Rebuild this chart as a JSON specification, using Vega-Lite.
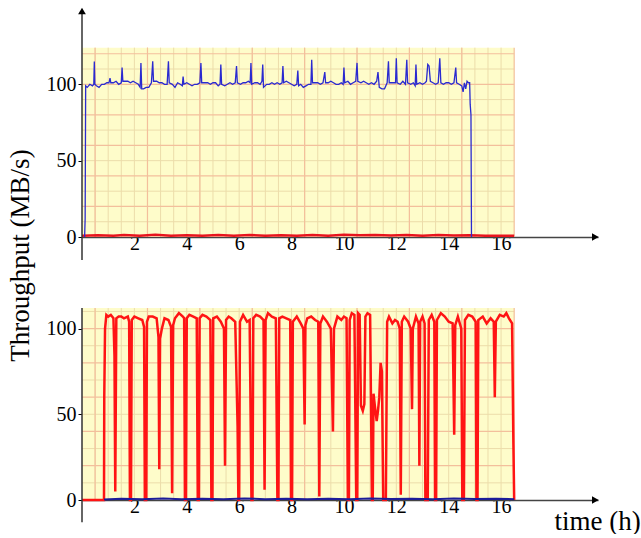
{
  "$schema": "https://vega.github.io/schema/vega-lite/v6.json",
  "padding": {"left": 6, "top": 7, "right": 0, "bottom": 0},
  "background": "white",
  "bounds": "flush",
  "spacing": 71,
  "resolve": {"scale": {"x": "independent", "y": "independent"}},
  "config": {
    "font": "Liberation Serif, Times New Roman, serif",
    "view": {"stroke": null},
    "axis": {
      "labelFont": "Liberation Serif, Times New Roman, serif", "labelFontSize": 20, "labelColor": "#000",
      "titleFont": "Liberation Serif, Times New Roman, serif", "titleFontSize": 27, "titleFontWeight": "normal", "titleColor": "#000",
      "grid": false, "tickColor": "#000", "domainColor": "#444", "domainWidth": 1.5, "labelOverlap": false, "labelFlush": false
    }
  },
  "datasets": {
    "vMinorTop": [{"t":0.5,"v":0,"v2":124},{"t":1,"v":0,"v2":124},{"t":1.5,"v":0,"v2":124},{"t":2,"v":0,"v2":124},{"t":2.5,"v":0,"v2":124},{"t":3,"v":0,"v2":124},{"t":3.5,"v":0,"v2":124},{"t":4,"v":0,"v2":124},{"t":4.5,"v":0,"v2":124},{"t":5,"v":0,"v2":124},{"t":5.5,"v":0,"v2":124},{"t":6,"v":0,"v2":124},{"t":6.5,"v":0,"v2":124},{"t":7,"v":0,"v2":124},{"t":7.5,"v":0,"v2":124},{"t":8,"v":0,"v2":124},{"t":8.5,"v":0,"v2":124},{"t":9,"v":0,"v2":124},{"t":9.5,"v":0,"v2":124},{"t":10,"v":0,"v2":124},{"t":10.5,"v":0,"v2":124},{"t":11,"v":0,"v2":124},{"t":11.5,"v":0,"v2":124},{"t":12,"v":0,"v2":124},{"t":12.5,"v":0,"v2":124},{"t":13,"v":0,"v2":124},{"t":13.5,"v":0,"v2":124},{"t":14,"v":0,"v2":124},{"t":14.5,"v":0,"v2":124},{"t":15,"v":0,"v2":124},{"t":15.5,"v":0,"v2":124},{"t":16,"v":0,"v2":124}],
    "vMajorTop": [{"t":0.5,"v":0,"v2":124},{"t":2.5,"v":0,"v2":124},{"t":4.5,"v":0,"v2":124},{"t":6.5,"v":0,"v2":124},{"t":8.5,"v":0,"v2":124},{"t":10.5,"v":0,"v2":124},{"t":12.5,"v":0,"v2":124},{"t":14.5,"v":0,"v2":124},{"t":16.5,"v":0,"v2":124}],
    "vMinorBot": [{"t":0.5,"v":0,"v2":112},{"t":1,"v":0,"v2":112},{"t":1.5,"v":0,"v2":112},{"t":2,"v":0,"v2":112},{"t":2.5,"v":0,"v2":112},{"t":3,"v":0,"v2":112},{"t":3.5,"v":0,"v2":112},{"t":4,"v":0,"v2":112},{"t":4.5,"v":0,"v2":112},{"t":5,"v":0,"v2":112},{"t":5.5,"v":0,"v2":112},{"t":6,"v":0,"v2":112},{"t":6.5,"v":0,"v2":112},{"t":7,"v":0,"v2":112},{"t":7.5,"v":0,"v2":112},{"t":8,"v":0,"v2":112},{"t":8.5,"v":0,"v2":112},{"t":9,"v":0,"v2":112},{"t":9.5,"v":0,"v2":112},{"t":10,"v":0,"v2":112},{"t":10.5,"v":0,"v2":112},{"t":11,"v":0,"v2":112},{"t":11.5,"v":0,"v2":112},{"t":12,"v":0,"v2":112},{"t":12.5,"v":0,"v2":112},{"t":13,"v":0,"v2":112},{"t":13.5,"v":0,"v2":112},{"t":14,"v":0,"v2":112},{"t":14.5,"v":0,"v2":112},{"t":15,"v":0,"v2":112},{"t":15.5,"v":0,"v2":112},{"t":16,"v":0,"v2":112}],
    "vMajorBot": [{"t":0.5,"v":0,"v2":112},{"t":2.5,"v":0,"v2":112},{"t":4.5,"v":0,"v2":112},{"t":6.5,"v":0,"v2":112},{"t":8.5,"v":0,"v2":112},{"t":10.5,"v":0,"v2":112},{"t":12.5,"v":0,"v2":112},{"t":14.5,"v":0,"v2":112},{"t":16.5,"v":0,"v2":112}],
    "hMinorTop": [{"v":10,"t":0,"t2":16.5},{"v":30,"t":0,"t2":16.5},{"v":50,"t":0,"t2":16.5},{"v":70,"t":0,"t2":16.5},{"v":90,"t":0,"t2":16.5},{"v":110,"t":0,"t2":16.5}],
    "hMajorTop": [{"v":20,"t":0,"t2":16.5},{"v":40,"t":0,"t2":16.5},{"v":60,"t":0,"t2":16.5},{"v":80,"t":0,"t2":16.5},{"v":100,"t":0,"t2":16.5},{"v":120,"t":0,"t2":16.5}],
    "hMinorBot": [{"v":10,"t":0,"t2":16.5},{"v":30,"t":0,"t2":16.5},{"v":50,"t":0,"t2":16.5},{"v":70,"t":0,"t2":16.5},{"v":90,"t":0,"t2":16.5},{"v":110,"t":0,"t2":16.5}],
    "hMajorBot": [{"v":20,"t":0,"t2":16.5},{"v":40,"t":0,"t2":16.5},{"v":60,"t":0,"t2":16.5},{"v":80,"t":0,"t2":16.5},{"v":100,"t":0,"t2":16.5}],
    "topRed": [{"t":0,"v":0.8},{"t":0.6,"v":1.2},{"t":1.2,"v":0.8},{"t":1.6,"v":1.3},{"t":2.2,"v":0.9},{"t":2.8,"v":1.4},{"t":3.4,"v":0.9},{"t":4.0,"v":1.2},{"t":4.6,"v":0.8},{"t":5.2,"v":1.3},{"t":5.8,"v":0.9},{"t":6.4,"v":1.3},{"t":7.0,"v":0.9},{"t":7.6,"v":1.2},{"t":8.2,"v":0.8},{"t":8.8,"v":1.3},{"t":9.4,"v":0.9},{"t":10.0,"v":1.4},{"t":10.6,"v":1.1},{"t":11.2,"v":1.3},{"t":11.8,"v":1.0},{"t":12.4,"v":1.3},{"t":13.0,"v":0.9},{"t":13.6,"v":1.3},{"t":14.2,"v":1.0},{"t":14.8,"v":1.2},{"t":15.4,"v":0.8},{"t":16.0,"v":0.9},{"t":16.5,"v":0.8}],
    "topBlue": [{"t":0.10,"v":0},{"t":0.12,"v":12},{"t":0.14,"v":99},{"t":0.2,"v":98},{"t":0.3,"v":100},{"t":0.4,"v":99},{"t":0.45,"v":100},{"t":0.47,"v":115},{"t":0.49,"v":100},{"t":0.55,"v":99},{"t":0.65,"v":98},{"t":0.75,"v":100},{"t":0.85,"v":100},{"t":0.95,"v":101},{"t":1.03,"v":101},{"t":1.07,"v":104},{"t":1.1,"v":101},{"t":1.2,"v":101},{"t":1.3,"v":102},{"t":1.4,"v":100},{"t":1.5,"v":101},{"t":1.53,"v":111},{"t":1.56,"v":102},{"t":1.65,"v":102},{"t":1.75,"v":102},{"t":1.85,"v":101},{"t":1.95,"v":102},{"t":2.05,"v":101},{"t":2.15,"v":100},{"t":2.22,"v":98},{"t":2.25,"v":114},{"t":2.28,"v":97},{"t":2.35,"v":97},{"t":2.45,"v":98},{"t":2.55,"v":98},{"t":2.65,"v":101},{"t":2.7,"v":115},{"t":2.73,"v":102},{"t":2.85,"v":102},{"t":2.95,"v":101},{"t":3.05,"v":101},{"t":3.15,"v":100},{"t":3.25,"v":100},{"t":3.3,"v":115},{"t":3.33,"v":101},{"t":3.45,"v":100},{"t":3.55,"v":98},{"t":3.65,"v":101},{"t":3.75,"v":100},{"t":3.83,"v":99},{"t":3.86,"v":105},{"t":3.89,"v":100},{"t":4.0,"v":101},{"t":4.1,"v":100},{"t":4.2,"v":99},{"t":4.3,"v":100},{"t":4.4,"v":100},{"t":4.5,"v":101},{"t":4.54,"v":114},{"t":4.57,"v":101},{"t":4.7,"v":101},{"t":4.8,"v":101},{"t":4.9,"v":100},{"t":5.0,"v":101},{"t":5.1,"v":101},{"t":5.2,"v":99},{"t":5.27,"v":100},{"t":5.3,"v":113},{"t":5.33,"v":100},{"t":5.45,"v":99},{"t":5.55,"v":100},{"t":5.65,"v":101},{"t":5.75,"v":100},{"t":5.85,"v":101},{"t":5.9,"v":112},{"t":5.93,"v":101},{"t":6.05,"v":100},{"t":6.15,"v":101},{"t":6.25,"v":101},{"t":6.35,"v":102},{"t":6.42,"v":101},{"t":6.45,"v":114},{"t":6.48,"v":100},{"t":6.6,"v":101},{"t":6.7,"v":101},{"t":6.8,"v":100},{"t":6.87,"v":102},{"t":6.9,"v":113},{"t":6.93,"v":98},{"t":7.05,"v":100},{"t":7.15,"v":100},{"t":7.25,"v":101},{"t":7.35,"v":100},{"t":7.45,"v":101},{"t":7.55,"v":100},{"t":7.64,"v":101},{"t":7.67,"v":112},{"t":7.7,"v":101},{"t":7.8,"v":102},{"t":7.9,"v":101},{"t":8.0,"v":100},{"t":8.1,"v":99},{"t":8.2,"v":100},{"t":8.24,"v":109},{"t":8.27,"v":99},{"t":8.35,"v":100},{"t":8.45,"v":98},{"t":8.55,"v":99},{"t":8.65,"v":100},{"t":8.74,"v":100},{"t":8.77,"v":116},{"t":8.8,"v":101},{"t":8.9,"v":101},{"t":9.0,"v":101},{"t":9.1,"v":100},{"t":9.2,"v":101},{"t":9.27,"v":108},{"t":9.3,"v":101},{"t":9.4,"v":101},{"t":9.5,"v":102},{"t":9.6,"v":101},{"t":9.7,"v":100},{"t":9.8,"v":100},{"t":9.9,"v":101},{"t":9.97,"v":100},{"t":10.0,"v":111},{"t":10.03,"v":101},{"t":10.15,"v":102},{"t":10.25,"v":100},{"t":10.35,"v":101},{"t":10.45,"v":102},{"t":10.5,"v":114},{"t":10.53,"v":102},{"t":10.65,"v":101},{"t":10.75,"v":102},{"t":10.85,"v":101},{"t":10.95,"v":100},{"t":11.05,"v":101},{"t":11.15,"v":100},{"t":11.25,"v":102},{"t":11.3,"v":108},{"t":11.35,"v":98},{"t":11.45,"v":97},{"t":11.55,"v":97},{"t":11.65,"v":101},{"t":11.7,"v":115},{"t":11.73,"v":101},{"t":11.85,"v":101},{"t":11.97,"v":101},{"t":12.0,"v":117},{"t":12.03,"v":101},{"t":12.15,"v":100},{"t":12.25,"v":102},{"t":12.35,"v":100},{"t":12.4,"v":116},{"t":12.43,"v":101},{"t":12.55,"v":100},{"t":12.65,"v":101},{"t":12.72,"v":99},{"t":12.75,"v":113},{"t":12.78,"v":100},{"t":12.9,"v":101},{"t":13.0,"v":100},{"t":13.1,"v":101},{"t":13.15,"v":102},{"t":13.2,"v":113},{"t":13.25,"v":112},{"t":13.3,"v":102},{"t":13.4,"v":101},{"t":13.5,"v":100},{"t":13.6,"v":101},{"t":13.66,"v":117},{"t":13.7,"v":101},{"t":13.8,"v":100},{"t":13.9,"v":101},{"t":14.0,"v":101},{"t":14.1,"v":100},{"t":14.2,"v":101},{"t":14.27,"v":111},{"t":14.3,"v":101},{"t":14.4,"v":100},{"t":14.5,"v":99},{"t":14.55,"v":95},{"t":14.6,"v":101},{"t":14.65,"v":97},{"t":14.7,"v":102},{"t":14.75,"v":101},{"t":14.8,"v":101},{"t":14.82,"v":87},{"t":14.85,"v":80},{"t":14.87,"v":0}],
    "botRed": [{"t":0,"v":0},{"t":0.84,"v":0},{"t":0.85,"v":60},{"t":0.88,"v":100},{"t":0.93,"v":108},{"t":1.0,"v":107},{"t":1.1,"v":108},{"t":1.2,"v":106},{"t":1.24,"v":84},{"t":1.27,"v":5},{"t":1.31,"v":106},{"t":1.4,"v":107},{"t":1.5,"v":107},{"t":1.6,"v":106},{"t":1.75,"v":107},{"t":1.8,"v":104},{"t":1.83,"v":0},{"t":1.87,"v":0},{"t":1.9,"v":105},{"t":2.0,"v":107},{"t":2.15,"v":106},{"t":2.3,"v":105},{"t":2.37,"v":101},{"t":2.4,"v":0},{"t":2.45,"v":0},{"t":2.48,"v":104},{"t":2.55,"v":107},{"t":2.7,"v":107},{"t":2.85,"v":106},{"t":2.92,"v":95},{"t":2.95,"v":18},{"t":2.98,"v":94},{"t":3.05,"v":100},{"t":3.15,"v":106},{"t":3.3,"v":105},{"t":3.4,"v":101},{"t":3.44,"v":4},{"t":3.48,"v":102},{"t":3.55,"v":106},{"t":3.7,"v":109},{"t":3.85,"v":107},{"t":3.9,"v":106},{"t":3.93,"v":0},{"t":3.97,"v":0},{"t":4.0,"v":106},{"t":4.1,"v":108},{"t":4.25,"v":107},{"t":4.38,"v":106},{"t":4.42,"v":0},{"t":4.46,"v":0},{"t":4.49,"v":106},{"t":4.6,"v":108},{"t":4.75,"v":107},{"t":4.9,"v":105},{"t":4.94,"v":0},{"t":4.98,"v":0},{"t":5.01,"v":106},{"t":5.15,"v":107},{"t":5.3,"v":104},{"t":5.42,"v":100},{"t":5.46,"v":20},{"t":5.5,"v":105},{"t":5.6,"v":107},{"t":5.7,"v":106},{"t":5.85,"v":104},{"t":5.94,"v":43},{"t":5.97,"v":0},{"t":6.0,"v":0},{"t":6.03,"v":104},{"t":6.15,"v":108},{"t":6.3,"v":104},{"t":6.4,"v":105},{"t":6.47,"v":0},{"t":6.51,"v":0},{"t":6.54,"v":106},{"t":6.65,"v":108},{"t":6.8,"v":107},{"t":6.93,"v":105},{"t":6.97,"v":6},{"t":7.01,"v":105},{"t":7.1,"v":109},{"t":7.25,"v":107},{"t":7.4,"v":106},{"t":7.46,"v":0},{"t":7.5,"v":0},{"t":7.53,"v":106},{"t":7.65,"v":107},{"t":7.8,"v":106},{"t":7.95,"v":105},{"t":7.98,"v":0},{"t":8.02,"v":0},{"t":8.05,"v":104},{"t":8.2,"v":107},{"t":8.35,"v":103},{"t":8.45,"v":100},{"t":8.5,"v":44},{"t":8.53,"v":102},{"t":8.6,"v":106},{"t":8.75,"v":107},{"t":8.9,"v":105},{"t":9.02,"v":104},{"t":9.06,"v":2},{"t":9.1,"v":103},{"t":9.2,"v":107},{"t":9.35,"v":104},{"t":9.5,"v":100},{"t":9.58,"v":40},{"t":9.62,"v":100},{"t":9.75,"v":107},{"t":9.9,"v":105},{"t":10.0,"v":107},{"t":10.1,"v":106},{"t":10.15,"v":0},{"t":10.19,"v":0},{"t":10.22,"v":105},{"t":10.3,"v":109},{"t":10.4,"v":108},{"t":10.47,"v":0},{"t":10.51,"v":0},{"t":10.54,"v":109},{"t":10.6,"v":108},{"t":10.65,"v":55},{"t":10.72,"v":52},{"t":10.78,"v":56},{"t":10.82,"v":107},{"t":10.9,"v":109},{"t":11.0,"v":108},{"t":11.07,"v":0},{"t":11.1,"v":0},{"t":11.13,"v":62},{"t":11.18,"v":55},{"t":11.25,"v":46},{"t":11.3,"v":52},{"t":11.35,"v":60},{"t":11.4,"v":80},{"t":11.45,"v":75},{"t":11.5,"v":0},{"t":11.55,"v":0},{"t":11.6,"v":0},{"t":11.65,"v":104},{"t":11.72,"v":107},{"t":11.85,"v":103},{"t":11.95,"v":105},{"t":12.05,"v":104},{"t":12.13,"v":100},{"t":12.17,"v":3},{"t":12.21,"v":104},{"t":12.3,"v":107},{"t":12.45,"v":104},{"t":12.55,"v":100},{"t":12.6,"v":53},{"t":12.63,"v":100},{"t":12.75,"v":107},{"t":12.85,"v":103},{"t":12.88,"v":20},{"t":12.91,"v":104},{"t":13.0,"v":107},{"t":13.08,"v":103},{"t":13.11,"v":0},{"t":13.15,"v":0},{"t":13.2,"v":0},{"t":13.24,"v":105},{"t":13.35,"v":108},{"t":13.45,"v":104},{"t":13.48,"v":0},{"t":13.52,"v":0},{"t":13.55,"v":105},{"t":13.7,"v":109},{"t":13.85,"v":107},{"t":14.0,"v":104},{"t":14.15,"v":103},{"t":14.21,"v":38},{"t":14.25,"v":102},{"t":14.35,"v":107},{"t":14.48,"v":100},{"t":14.52,"v":0},{"t":14.58,"v":0},{"t":14.62,"v":105},{"t":14.75,"v":108},{"t":14.9,"v":107},{"t":15.03,"v":104},{"t":15.06,"v":0},{"t":15.1,"v":0},{"t":15.13,"v":105},{"t":15.3,"v":107},{"t":15.45,"v":103},{"t":15.6,"v":106},{"t":15.72,"v":104},{"t":15.76,"v":60},{"t":15.8,"v":104},{"t":15.95,"v":108},{"t":16.1,"v":107},{"t":16.2,"v":109},{"t":16.3,"v":106},{"t":16.42,"v":103},{"t":16.47,"v":33},{"t":16.5,"v":0}],
    "botBlue": [{"t":0.84,"v":0.3},{"t":1.5,"v":0.7},{"t":2.3,"v":0.4},{"t":3.1,"v":0.9},{"t":3.8,"v":0.5},{"t":4.6,"v":0.8},{"t":5.4,"v":0.4},{"t":6.2,"v":0.9},{"t":7.0,"v":0.5},{"t":7.8,"v":0.8},{"t":8.6,"v":0.4},{"t":9.4,"v":0.7},{"t":10.2,"v":0.5},{"t":11.0,"v":0.9},{"t":11.8,"v":0.6},{"t":12.6,"v":0.8},{"t":13.4,"v":0.5},{"t":14.2,"v":0.9},{"t":15.0,"v":0.6},{"t":15.8,"v":0.8},{"t":16.5,"v":0.5}]
  },
  "vconcat": [
    {
      "width": 516,
      "height": 226,
      "encoding": {
        "x": {"field": "t", "type": "quantitative", "scale": {"domain": [0, 19.7], "nice": false, "zero": false},
              "axis": {"values": [2,4,6,8,10,12,14,16], "title": null, "tickSize": -5, "labelPadding": 1, "domain": true}},
        "y": {"field": "v", "type": "quantitative", "scale": {"domain": [0, 148], "nice": false, "zero": false},
              "axis": {"values": [0,50,100], "title": "Throughput (MB/s)", "domain": false, "tickSize": 4, "labelPadding": 2,
                       "titleX": -54, "titleY": 244, "titleAngle": 270, "titleBaseline": "alphabetic", "titleAlign": "center"}}
      },
      "layer": [
        {"data": {"values": [{"t": 0, "t2": 16.5, "v": 0, "v2": 124}]}, "mark": {"type": "rect", "color": "#fefcca"},
         "encoding": {"x2": {"field": "t2"}, "y2": {"field": "v2"}}},
        {"data": {"name": "vMinorTop"}, "mark": {"type": "rule", "color": "#ecdcaa", "strokeWidth": 1},
         "encoding": {"y2": {"field": "v2"}}},
        {"data": {"name": "hMinorTop"}, "mark": {"type": "rule", "color": "#ecdcaa", "strokeWidth": 1},
         "encoding": {"x2": {"field": "t2"}}},
        {"data": {"name": "vMajorTop"}, "mark": {"type": "rule", "color": "#f3bf9c", "strokeWidth": 1.2},
         "encoding": {"y2": {"field": "v2"}}},
        {"data": {"name": "hMajorTop"}, "mark": {"type": "rule", "color": "#f3bf9c", "strokeWidth": 1.2},
         "encoding": {"x2": {"field": "t2"}}},
        {"data": {"name": "topRed"}, "mark": {"type": "line", "color": "#e8141e", "strokeWidth": 2.5}},
        {"data": {"name": "topBlue"}, "mark": {"type": "line", "color": "#2a2ad0", "strokeWidth": 1.3}},
        {"data": {"values": [{"t": 0, "v": -15, "v2": 148}]}, "mark": {"type": "rule", "color": "#333", "strokeWidth": 1.5},
         "encoding": {"y2": {"field": "v2"}}},
        {"data": {"values": [{"t": 19.6, "v": 0}]}, "mark": {"type": "point", "shape": "triangle-right", "filled": true, "color": "#000", "size": 60, "opacity": 1}},
        {"data": {"values": [{"t": 0, "v": 148}]}, "mark": {"type": "point", "shape": "triangle-up", "filled": true, "color": "#000", "size": 60, "opacity": 1}}
      ]
    },
    {
      "width": 516,
      "height": 192,
      "encoding": {
        "x": {"field": "t", "type": "quantitative", "scale": {"domain": [0, 19.7], "nice": false, "zero": false},
              "axis": {"values": [2,4,6,8,10,12,14,16], "title": "time (h)", "tickSize": -5, "labelPadding": 1, "domain": true,
                       "titleX": 472, "titleY": 29, "titleAlign": "left", "titleBaseline": "alphabetic"}},
        "y": {"field": "v", "type": "quantitative", "scale": {"domain": [0, 112], "nice": false, "zero": false},
              "axis": {"values": [0,50,100], "title": null, "domain": false, "tickSize": 4, "labelPadding": 2}}
      },
      "layer": [
        {"data": {"values": [{"t": 0, "t2": 16.5, "v": 0, "v2": 112}]}, "mark": {"type": "rect", "color": "#fefcca"},
         "encoding": {"x2": {"field": "t2"}, "y2": {"field": "v2"}}},
        {"data": {"name": "vMinorBot"}, "mark": {"type": "rule", "color": "#ecdcaa", "strokeWidth": 1},
         "encoding": {"y2": {"field": "v2"}}},
        {"data": {"name": "hMinorBot"}, "mark": {"type": "rule", "color": "#ecdcaa", "strokeWidth": 1},
         "encoding": {"x2": {"field": "t2"}}},
        {"data": {"name": "vMajorBot"}, "mark": {"type": "rule", "color": "#f3bf9c", "strokeWidth": 1.2},
         "encoding": {"y2": {"field": "v2"}}},
        {"data": {"name": "hMajorBot"}, "mark": {"type": "rule", "color": "#f3bf9c", "strokeWidth": 1.2},
         "encoding": {"x2": {"field": "t2"}}},
        {"data": {"name": "botRed"}, "mark": {"type": "line", "color": "#ff1414", "strokeWidth": 2.5}},
        {"data": {"name": "botBlue"}, "mark": {"type": "line", "color": "#1c1c99", "strokeWidth": 2}},
        {"data": {"values": [{"t": 0, "v": -13, "v2": 112}]}, "mark": {"type": "rule", "color": "#333", "strokeWidth": 1.5},
         "encoding": {"y2": {"field": "v2"}}},
        {"data": {"values": [{"t": 19.6, "v": 0}]}, "mark": {"type": "point", "shape": "triangle-right", "filled": true, "color": "#000", "size": 60, "opacity": 1}}
      ]
    }
  ]
}
